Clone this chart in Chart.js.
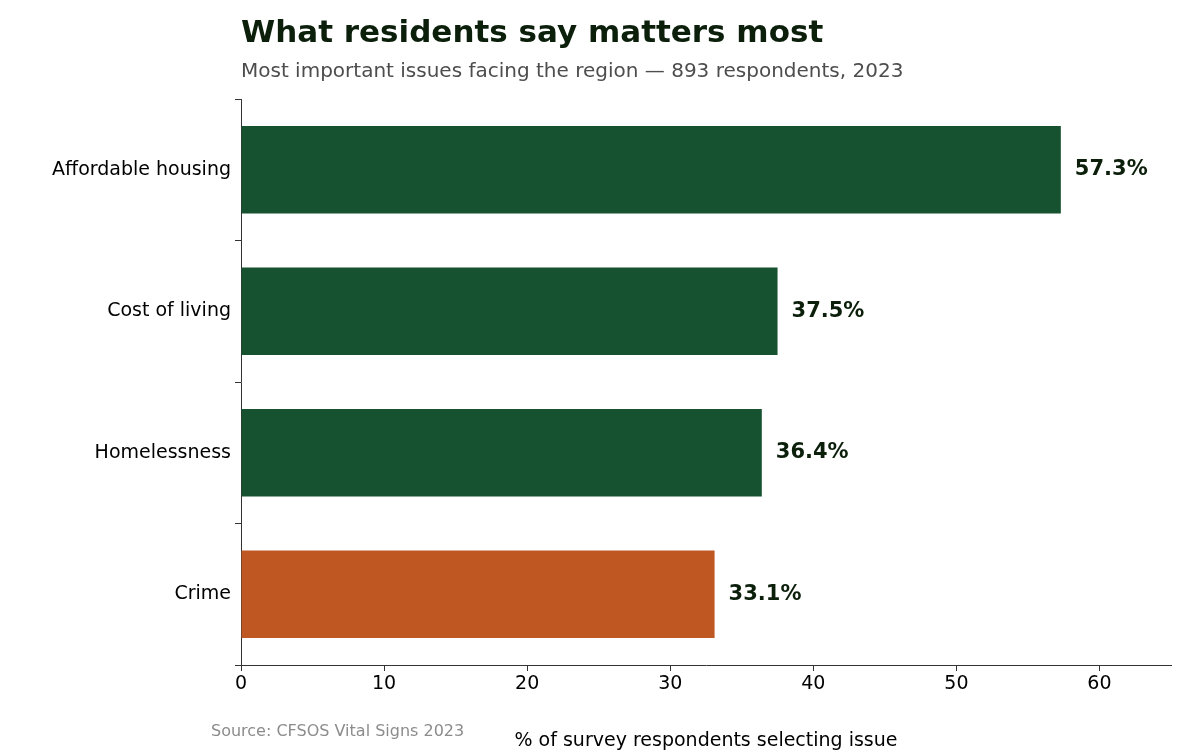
<!DOCTYPE html>
<html><head><meta charset="utf-8">
<script src="https://cdn.jsdelivr.net/npm/chart.js@4"></script>
<style>html,body{margin:0;padding:0;background:#fff}#wrap{width:1187px;height:756px}</style>
</head><body><div id="wrap"><canvas id="c"></canvas></div>
<script>
const categories = ["Affordable housing","Cost of living","Homelessness","Crime"];
const values = [57.3,37.5,36.4,33.1];
const colors = ["#16522f","#16522f","#16522f","#bf5722"];
const xTicks = [0,10,20,30,40,50,60];
const F = "'DejaVu Sans', sans-serif";
const deco = {
  id:'deco',
  afterDraw(ch){
    const c = ch.ctx; c.save();
    c.textBaseline='alphabetic'; c.textAlign='left';
    c.fillStyle='#0b1f0b'; c.font='bold 31px '+F;
    c.fillText('What residents say matters most',241,42);
    c.fillStyle='#4d4d4d'; c.font='20px '+F;
    c.fillText('Most important issues facing the region — 893 respondents, 2023',241,77);
    c.fillStyle='#8c8c8c'; c.font='16px '+F;
    c.fillText('Source: CFSOS Vital Signs 2023',211,736);
    const m = ch.getDatasetMeta(0);
    c.fillStyle='#0b1f0b'; c.font='bold 21px '+F; c.textBaseline='middle';
    m.data.forEach((b,i)=>{ c.fillText(values[i].toFixed(1)+'%', b.x+14, b.y); });
    c.restore();
  }
};
new Chart(document.getElementById('c'),{
  type:'bar',
  data:{labels:categories,datasets:[{data:values,backgroundColor:colors,barPercentage:0.62,categoryPercentage:1}]},
  options:{
    indexAxis:'y',responsive:true,maintainAspectRatio:false,animation:false,
    layout:{padding:{top:99,right:16,left:0,bottom:0}},
    plugins:{legend:{display:false},tooltip:{enabled:false}},
    scales:{
      x:{min:0,max:65,
        afterBuildTicks(s){s.ticks=xTicks.map(v=>({value:v}));},
        afterFit(s){s.height=91;},
        grid:{drawOnChartArea:false,tickLength:6,color:'#333'},
        border:{color:'#333'},
        ticks:{color:'#000',font:{family:F,size:19},padding:2},
        title:{display:true,text:'% of survey respondents selecting issue',color:'#000',font:{family:F,size:19},padding:{top:4}}},
      y:{afterFit(s){s.width=241;},
        grid:{drawOnChartArea:false,tickLength:6,color:'#333'},
        border:{color:'#333'},
        ticks:{color:'#000',font:{family:F,size:19},padding:4}}
    }
  },
  plugins:[deco]
});
</script></body></html>
